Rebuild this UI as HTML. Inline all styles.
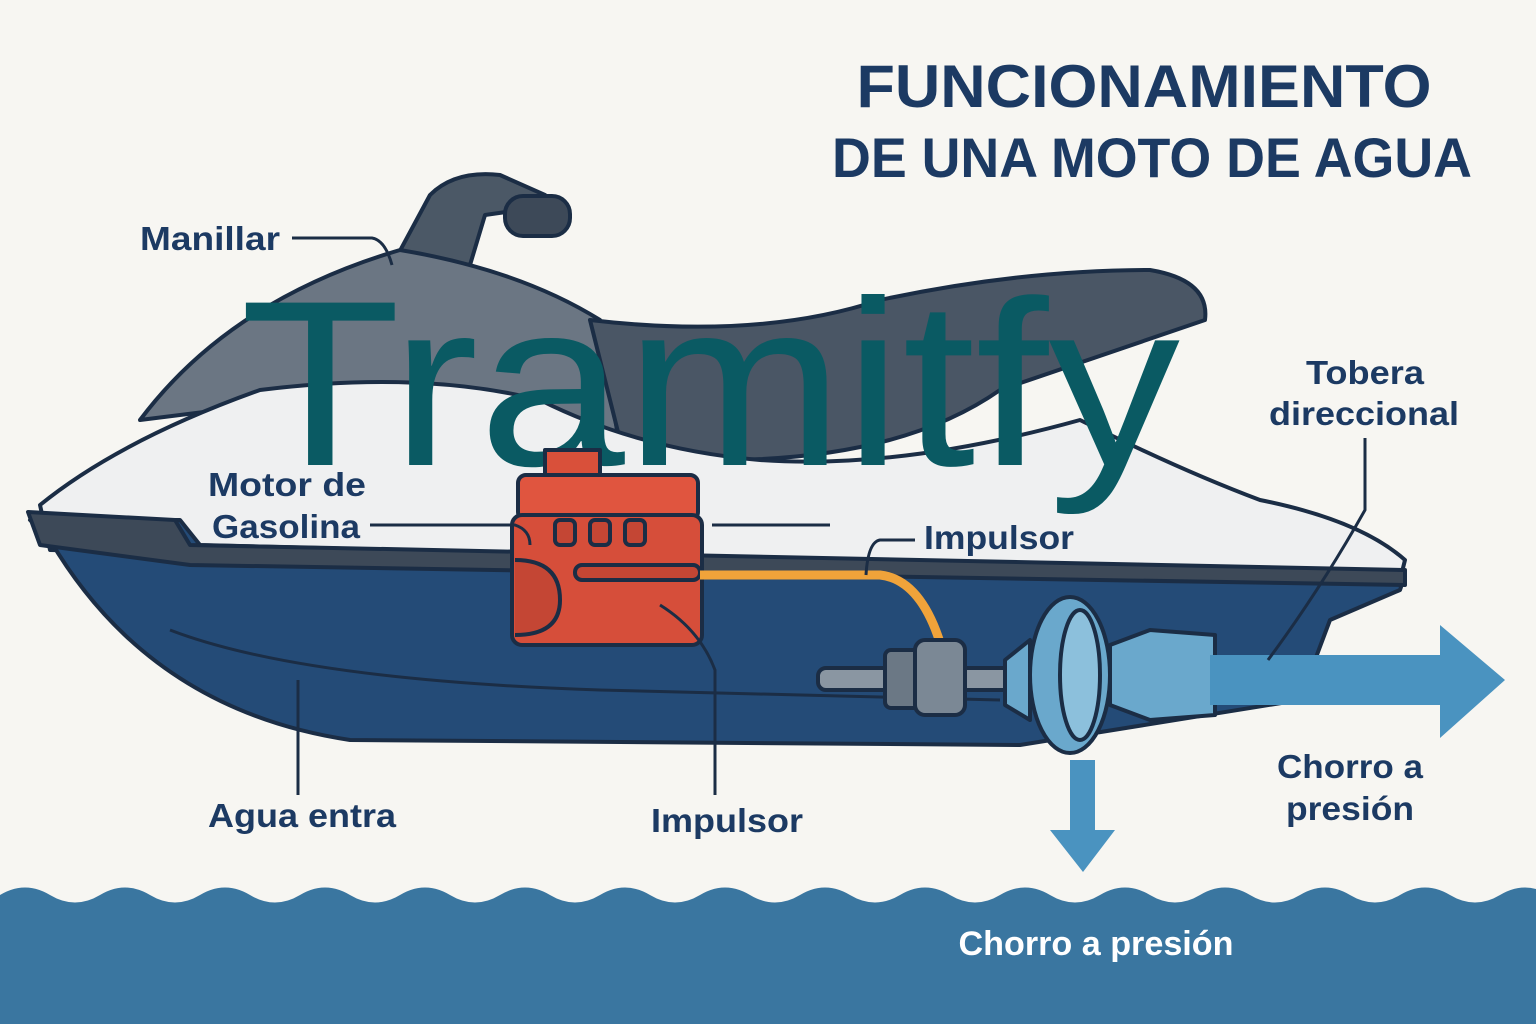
<!DOCTYPE html>
<html><head><meta charset="utf-8"><style>
html,body{margin:0;padding:0;background:#f7f6f2;}
svg{display:block}
text{font-family:"Liberation Sans",sans-serif;font-weight:bold;}
</style></head><body>
<svg width="1536" height="1024" viewBox="0 0 1536 1024" xmlns="http://www.w3.org/2000/svg">
<rect width="1536" height="1024" fill="#f7f6f2"/>
<text x="1144" y="107" text-anchor="middle" font-size="60" fill="#1c3a63" textLength="575" lengthAdjust="spacingAndGlyphs">FUNCIONAMIENTO</text>
<text x="1152" y="177" text-anchor="middle" font-size="56" fill="#1c3a63" textLength="640" lengthAdjust="spacingAndGlyphs">DE UNA MOTO DE AGUA</text>

<path d="M0 895 Q25 880 50 895 T100 895 T150 895 T200 895 T250 895 T300 895 T350 895 T400 895 T450 895 T500 895 T550 895 T600 895 T650 895 T700 895 T750 895 T800 895 T850 895 T900 895 T950 895 T1000 895 T1050 895 T1100 895 T1150 895 T1200 895 T1250 895 T1300 895 T1350 895 T1400 895 T1450 895 T1500 895 T1550 895 L1536 1024 L0 1024Z" fill="#3a76a0"/>
<text x="1096" y="955" text-anchor="middle" font-size="34" fill="#ffffff" textLength="275" lengthAdjust="spacingAndGlyphs">Chorro a presión</text>

<g stroke="#1b2d45" stroke-width="4" stroke-linejoin="round">
<path d="M395 260 L430 195 Q455 170 500 175 L545 195 L520 210 L485 215 L470 265 Z" fill="#4b5866"/>
<rect x="505" y="196" width="65" height="40" rx="18" fill="#3d4958"/>
<path d="M140 420 Q230 300 400 250 Q520 270 600 320 L620 450 L300 400 Z" fill="#6b7683"/>
<path d="M590 320 Q760 340 880 300 Q1020 270 1150 270 Q1210 280 1205 320 L1000 390 Q900 460 720 460 L620 440 Z" fill="#4a5665"/>
<path d="M40 505 Q120 440 260 390 Q420 370 540 400 Q640 450 760 460 Q900 470 1080 420 Q1180 470 1260 500 Q1360 520 1405 560 L1400 580 L50 550 Z" fill="#eff0f1"/>
<path d="M30 520 L180 520 L200 545 L1405 575 L1400 590 L1330 620 L1300 700 L1020 745 L350 740 Q150 710 50 540 Z" fill="#244b77"/>
<path d="M28 512 L175 520 L190 545 L1405 570 L1405 585 L190 565 L40 545Z" fill="#3d4958"/>
<path d="M170 630 Q300 680 600 690 L1000 700" fill="none" stroke-width="3"/>
</g>

<text x="240" y="465" font-size="236" fill="#0a5a63" textLength="940" lengthAdjust="spacingAndGlyphs" style="font-weight:normal">Tramitfy</text>

<g stroke="#1b2d45" stroke-width="4" stroke-linejoin="round">
<rect x="545" y="450" width="55" height="30" fill="#d9503a"/>
<rect x="518" y="475" width="180" height="45" rx="8" fill="#e0553f"/>
<rect x="512" y="515" width="190" height="130" rx="10" fill="#d64e3a"/>
<rect x="555" y="520" width="20" height="25" rx="5" fill="#c44634"/>
<rect x="590" y="520" width="20" height="25" rx="5" fill="#c44634"/>
<rect x="625" y="520" width="20" height="25" rx="5" fill="#c44634"/>
<path d="M515 560 Q560 560 560 600 Q560 635 515 635" fill="#c44634"/>
<rect x="575" y="565" width="125" height="15" rx="7" fill="#c44634"/>
<path d="M700 575 L880 575 Q925 580 945 660" fill="none" stroke="#f0a33a" stroke-width="9"/>
<rect x="818" y="668" width="220" height="22" rx="8" fill="#8a96a2"/>
<rect x="885" y="650" width="40" height="58" rx="6" fill="#6b7885"/>
<rect x="915" y="640" width="50" height="75" rx="10" fill="#7b8895"/>
<path d="M1005 660 L1030 640 L1030 720 L1005 705Z" fill="#6aa8cc"/>
<ellipse cx="1070" cy="675" rx="40" ry="78" fill="#6aa8cc"/>
<ellipse cx="1080" cy="675" rx="20" ry="65" fill="#8cc0dc"/>
<path d="M1110 645 L1150 630 L1215 635 L1215 715 L1150 720 L1110 705Z" fill="#6aa8cc"/>
</g>
<path d="M1210 655 L1440 655 L1440 625 L1505 680 L1440 738 L1440 705 L1210 705Z" fill="#4a93c0"/>
<path d="M1070 760 L1095 760 L1095 830 L1115 830 L1083 872 L1050 830 L1070 830Z" fill="#4a93c0"/>

<g fill="none" stroke="#1b2d45" stroke-width="3">
<path d="M292 238 L372 238 Q385 240 392 265"/>
<path d="M370 525 L515 525 Q530 530 530 545"/>
<path d="M712 525 L830 525"/>
<path d="M915 540 L880 540 Q868 542 866 575"/>
<path d="M1365 438 L1365 510 Q1320 590 1268 660"/>
<path d="M298 680 L298 795"/>
<path d="M660 605 Q700 630 715 670 L715 795"/>
</g>

<g fill="#1c3a63" font-size="33">
<text x="140" y="250" textLength="140" lengthAdjust="spacingAndGlyphs">Manillar</text>
<text x="208" y="496" textLength="158" lengthAdjust="spacingAndGlyphs">Motor de</text>
<text x="212" y="538" textLength="148" lengthAdjust="spacingAndGlyphs">Gasolina</text>
<text x="924" y="549" textLength="150" lengthAdjust="spacingAndGlyphs">Impulsor</text>
<text x="1365" y="384" text-anchor="middle" textLength="118" lengthAdjust="spacingAndGlyphs">Tobera</text>
<text x="1364" y="425" text-anchor="middle" textLength="190" lengthAdjust="spacingAndGlyphs">direccional</text>
<text x="208" y="827" textLength="188" lengthAdjust="spacingAndGlyphs">Agua entra</text>
<text x="651" y="832" textLength="152" lengthAdjust="spacingAndGlyphs">Impulsor</text>
<text x="1350" y="778" text-anchor="middle" textLength="146" lengthAdjust="spacingAndGlyphs">Chorro a</text>
<text x="1350" y="820" text-anchor="middle" textLength="128" lengthAdjust="spacingAndGlyphs">presión</text>
</g>
</svg>
</body></html>
